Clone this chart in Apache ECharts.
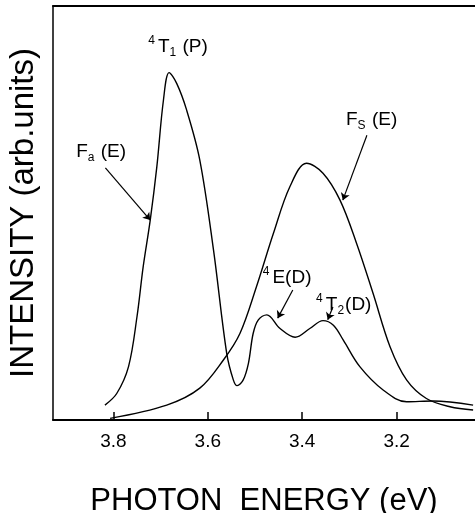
<!DOCTYPE html>
<html><head><meta charset="utf-8">
<script src="https://cdn.jsdelivr.net/npm/echarts@6/dist/echarts.min.js"></script>
<style>html,body{margin:0;padding:0;background:#fff}#c{width:475px;height:513px}</style>
</head><body><div id="c"></div>
<script>
// Fa(E) curve (sharp 4T1(P) peak + 4E(D), 4T2(D) doublet)
const faEnergy = [3.818,3.793,3.768,3.750,3.737,3.722,3.708,3.694,3.682,3.666,3.645,3.617,3.588,3.560,3.546,3.538,3.525,3.514,3.504,3.493,3.475,3.447,3.415,3.384,3.356,3.334,3.313,3.278,3.228,3.179,3.123,3.038];
const faIntensity = [3.6,6.4,12.9,25.0,37.0,48.3,61.2,77.3,83.9,81.3,74.9,62.8,41.1,16.1,9.7,8.3,9.7,13.7,20.9,24.2,25.4,22.1,20.0,22.1,24.0,22.9,19.3,12.9,7.2,4.4,4.6,3.6];
// Fs(E) curve (broad band)
const fsEnergy = [3.807,3.687,3.617,3.567,3.532,3.497,3.461,3.426,3.391,3.356,3.320,3.285,3.250,3.214,3.179,3.137,3.087,3.038];
const fsIntensity = [0.4,3.6,7.7,14.5,20.9,32.2,45.1,56.4,62.0,59.6,53.1,42.7,30.6,17.7,9.7,5.2,3.2,2.4];
// tick labels
const xTicks = [3.8,3.6,3.4,3.2];
// annotations
const noteText = ['{sup|4}{n|T}{sub|1}{n| (P)}','{n|F}{sub|a}{n| (E)}','{n|F}{sub|S}{n| (E)}','{sup|4}{n|E(D)}','{sup|4}{n|T}{sub|2}{n|(D)}'];
const noteEnergy = [3.663,3.826,3.253,3.432,3.312];
const noteIntensity = [90.1,64.7,72.5,34.3,27.8];
const arrowFrom = [[3.817,60.9],[3.263,68.8],[3.420,31.4],[3.335,27.3]];
const arrowTo = [[3.722,48.3],[3.314,53.1],[3.452,24.6],[3.346,24.2]];

const zip = (a,b)=>a.map((v,i)=>[v,b[i]]);
const font = '"Liberation Sans",sans-serif';
const rich = {
  n:{fontSize:19,fontFamily:font,color:'#000'},
  sup:{fontSize:12,fontFamily:font,color:'#000',padding:[0,3,13,0]},
  sub:{fontSize:12,fontFamily:font,color:'#000',padding:[11,1,0,0]}
};
const chart = echarts.init(document.getElementById('c'));
chart.setOption({
  animation:false,
  grid:{left:53,right:0,top:6,bottom:93,containLabel:false,outerBoundsMode:'none'},
  xAxis:[{
    type:'value',inverse:true,min:3.034,max:3.928,
    axisLine:{show:true,lineStyle:{color:'#000',width:2}},
    axisTick:{show:true,inside:true,length:8,customValues:xTicks,lineStyle:{color:'#000',width:1.5}},
    axisLabel:{customValues:xTicks,formatter:v=>v.toFixed(1),fontSize:19,fontFamily:font,color:'#000',margin:12},
    splitLine:{show:false},
    name:'PHOTON  ENERGY (eV)',nameLocation:'middle',nameGap:66,
    nameTextStyle:{fontSize:31,fontFamily:font,color:'#000'}
  },{
    type:'value',position:'top',inverse:true,min:3.034,max:3.928,
    axisLine:{show:true,lineStyle:{color:'#000',width:2}},
    axisTick:{show:false},axisLabel:{show:false},splitLine:{show:false}
  }],
  yAxis:{
    type:'value',min:0,max:100,
    axisLine:{show:true,lineStyle:{color:'#000',width:1.5}},
    axisTick:{show:false},axisLabel:{show:false},splitLine:{show:false},
    name:'INTENSITY (arb.units)',nameLocation:'middle',nameGap:13,
    nameTextStyle:{fontSize:33,fontFamily:font,color:'#000'}
  },
  series:[{
    type:'line',name:'Fa(E)',data:zip(faEnergy,faIntensity),smooth:0.35,showSymbol:false,
    lineStyle:{color:'#000',width:1.4},
    markPoint:{
      symbol:'circle',symbolSize:0,silent:true,
      label:{show:true,position:'inside',formatter:p=>p.data.t,rich:rich},
      data:noteText.map((t,i)=>({coord:[noteEnergy[i],noteIntensity[i]],t:t}))
    },
    markLine:{
      silent:true,symbol:['none','arrow'],symbolSize:7,
      lineStyle:{color:'#000',width:1.2,type:'solid'},label:{show:false},
      data:arrowFrom.map((f,i)=>[{coord:f},{coord:arrowTo[i]}])
    }
  },{
    type:'line',name:'Fs(E)',data:zip(fsEnergy,fsIntensity),smooth:0.35,showSymbol:false,
    lineStyle:{color:'#000',width:1.4}
  }]
});
</script></body></html>
